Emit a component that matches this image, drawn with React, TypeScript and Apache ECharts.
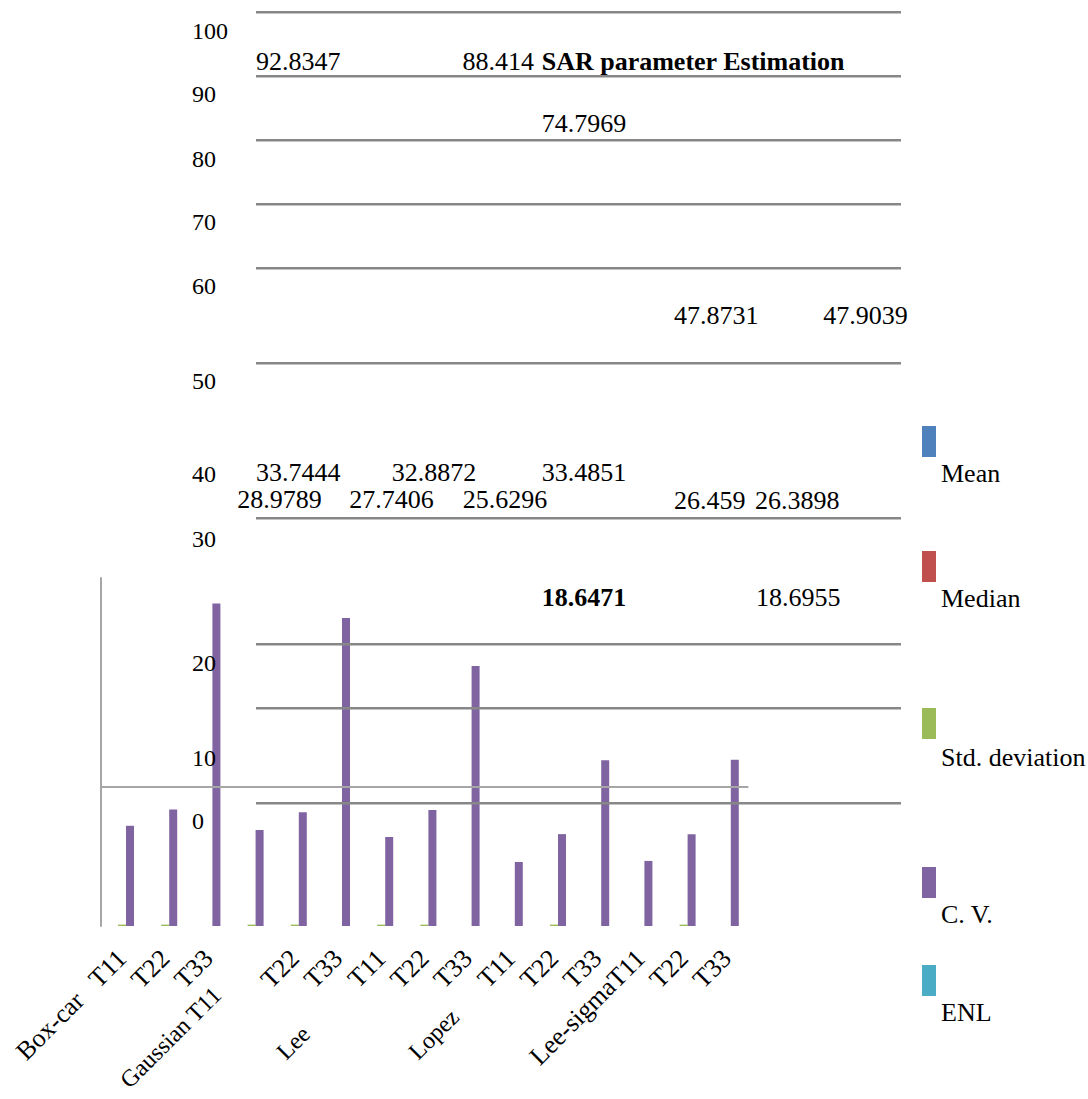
import React, { useEffect, useRef } from "react";
import * as echarts from "echarts";

// ---------- data ----------
const categories = [
  "Box-car   T11", "T22", "T33",
  "", "T22", "T33",
  "T11", "T22", "T33",
  "T11", "T22", "T33",
  "Lee-sigmaT11", "T22", "T33",
];
const groupLabels = ["Gaussian T11", "Lee", "Lopez"];
const seriesNames = ["Mean", "Median", "Std. deviation", "C. V.", "ENL"];
const seriesColors = ["#4F81BD", "#C0504D", "#9BBB59", "#8064A2", "#4BACC6"];
const meanValues = [0, 0, 0, 0, 0, 0, 0, 0, 0, 0, 0, 0, 0, 0, 0];
const medianValues = [0, 0, 0, 0, 0, 0, 0, 0, 0, 0, 0, 0, 0, 0, 0];
const stdValues = [0.004, 0.004, 0, 0.004, 0.004, 0, 0.004, 0.004, 0, 0, 0.004, 0, 0, 0.004, 0];
const cvValues = [0.288, 0.335, 0.927, 0.276, 0.327, 0.885, 0.256, 0.333, 0.747, 0.184, 0.264, 0.476, 0.187, 0.264, 0.478];
const enlValues = [0, 0, 0, 0, 0, 0, 0, 0, 0, 0, 0, 0, 0, 0, 0];
const axisRefLine = 0.4;
const yTickLabels = ["100", "90", "80", "70", "60", "50", "40", "30", "20", "10", "0"];
const valueLabels = [
  "92.8347", "88.414", "74.7969", "47.8731", "47.9039",
  "33.7444", "32.8872", "33.4851",
  "28.9789", "27.7406", "25.6296", "26.459", "26.3898",
  "18.6471", "18.6955",
];
const titleText = "SAR parameter Estimation";

// ---------- layout (positions only) ----------
const FONT = "Liberation Serif";
const gridLineYs = [12.3, 76.3, 140.3, 204.3, 268.3, 363.3, 518.3, 644.3, 708.3, 803.3];
const gridLineX1 = 256;
const gridLineX2 = 901;
const tickLabelX = 192;
const tickLabelYs = [31, 94, 158.5, 222, 286, 381, 474, 539, 662.5, 757.5, 820.5];
const valueLabelPos = [
  { x: 256, y: 61, a: "left" },
  { x: 534, y: 61.5, a: "right" },
  { x: 541.7, y: 123.5, a: "left" },
  { x: 674, y: 315, a: "left" },
  { x: 823.3, y: 315, a: "left" },
  { x: 256, y: 472, a: "left" },
  { x: 391.7, y: 472, a: "left" },
  { x: 541.7, y: 472, a: "left" },
  { x: 237.3, y: 499, a: "left" },
  { x: 349.3, y: 499, a: "left" },
  { x: 547.3, y: 499, a: "right" },
  { x: 674, y: 500, a: "left" },
  { x: 755, y: 500, a: "left" },
  { x: 541.7, y: 597, a: "left", b: true },
  { x: 756, y: 597, a: "left" },
];
const titlePos = { x: 541.7, y: 61.5 };
const groupLabelPos = [
  { x: 217, y: 991 },
  { x: 306, y: 1030 },
  { x: 455, y: 1013 },
];
const legendRectX = 922;
const legendRectYs = [426, 551, 708, 867, 965];
const legendTextX = 941;
const legendTextYs = [473, 598.5, 757, 914, 1012];

function txt(text: string, x: number, y: number, size: number, align: string, bold = false, rotation = 0) {
  return {
    type: "text",
    x,
    y,
    rotation,
    z: 110,
    silent: true,
    style: {
      text,
      fill: "#000",
      font: (bold ? "bold " : "") + size + "px " + FONT,
      align,
      verticalAlign: "middle",
    },
  };
}

export default function App() {
  const ref = useRef<HTMLDivElement>(null);
  useEffect(() => {
    if (!ref.current) return;
    const chart = echarts.init(ref.current, null, { renderer: "svg" });
    const allValues = [meanValues, medianValues, stdValues, cvValues, enlValues];

    const graphic: any[] = [];
    gridLineYs.forEach((y) =>
      graphic.push({
        type: "line",
        z: 100,
        silent: true,
        shape: { x1: gridLineX1, y1: y, x2: gridLineX2, y2: y },
        style: { stroke: "#878787", lineWidth: 2.6 },
      })
    );
    yTickLabels.forEach((t, i) => graphic.push(txt(t, tickLabelX, tickLabelYs[i], 24, "left")));
    valueLabels.forEach((t, i) => {
      const p = valueLabelPos[i];
      graphic.push(txt(t, p.x, p.y, 26, p.a, !!p.b));
    });
    graphic.push(txt(titleText, titlePos.x, titlePos.y, 26, "left", true));
    groupLabels.forEach((t, i) =>
      graphic.push(txt(t, groupLabelPos[i].x, groupLabelPos[i].y, 24, "right", false, Math.PI / 4))
    );
    seriesNames.forEach((n, i) => {
      graphic.push({
        type: "rect",
        z: 100,
        silent: true,
        shape: { x: legendRectX, y: legendRectYs[i], width: 14, height: 31 },
        style: { fill: seriesColors[i] },
      });
      graphic.push(txt(n, legendTextX, legendTextYs[i], 26, "left"));
    });

    chart.setOption({
      animation: false,
      backgroundColor: "#ffffff",
      legend: { show: false },
      grid: { left: 100.4, top: 578, width: 648, height: 348, containLabel: false },
      xAxis: {
        type: "category",
        data: categories,
        axisLine: { show: false },
        axisTick: { show: false },
        axisLabel: {
          interval: 0,
          rotate: 45,
          margin: 28,
          fontSize: 26,
          color: "#000",
          fontFamily: FONT,
        },
      },
      yAxis: {
        type: "value",
        min: 0,
        max: 1,
        axisLine: { show: true, lineStyle: { color: "#A6A6A6", width: 2 } },
        axisTick: { show: false },
        axisLabel: { show: false },
        splitLine: { show: false },
      },
      series: seriesNames.map((name, i) => ({
        type: "bar",
        name,
        data: allValues[i],
        barWidth: 8,
        barGap: "0%",
        itemStyle: { color: seriesColors[i] },
        ...(i === 3
          ? {
              markLine: {
                silent: true,
                symbol: ["none", "none"],
                label: { show: false },
                lineStyle: { color: "#A6A6A6", width: 2, type: "solid" },
                data: [{ yAxis: axisRefLine }],
              },
            }
          : {}),
      })),
      graphic,
    });
    return () => chart.dispose();
  }, []);
  return (
    <div
      ref={ref}
      style={{ position: "absolute", left: 0, top: 0, width: 1088, height: 1099 }}
    />
  );
}
